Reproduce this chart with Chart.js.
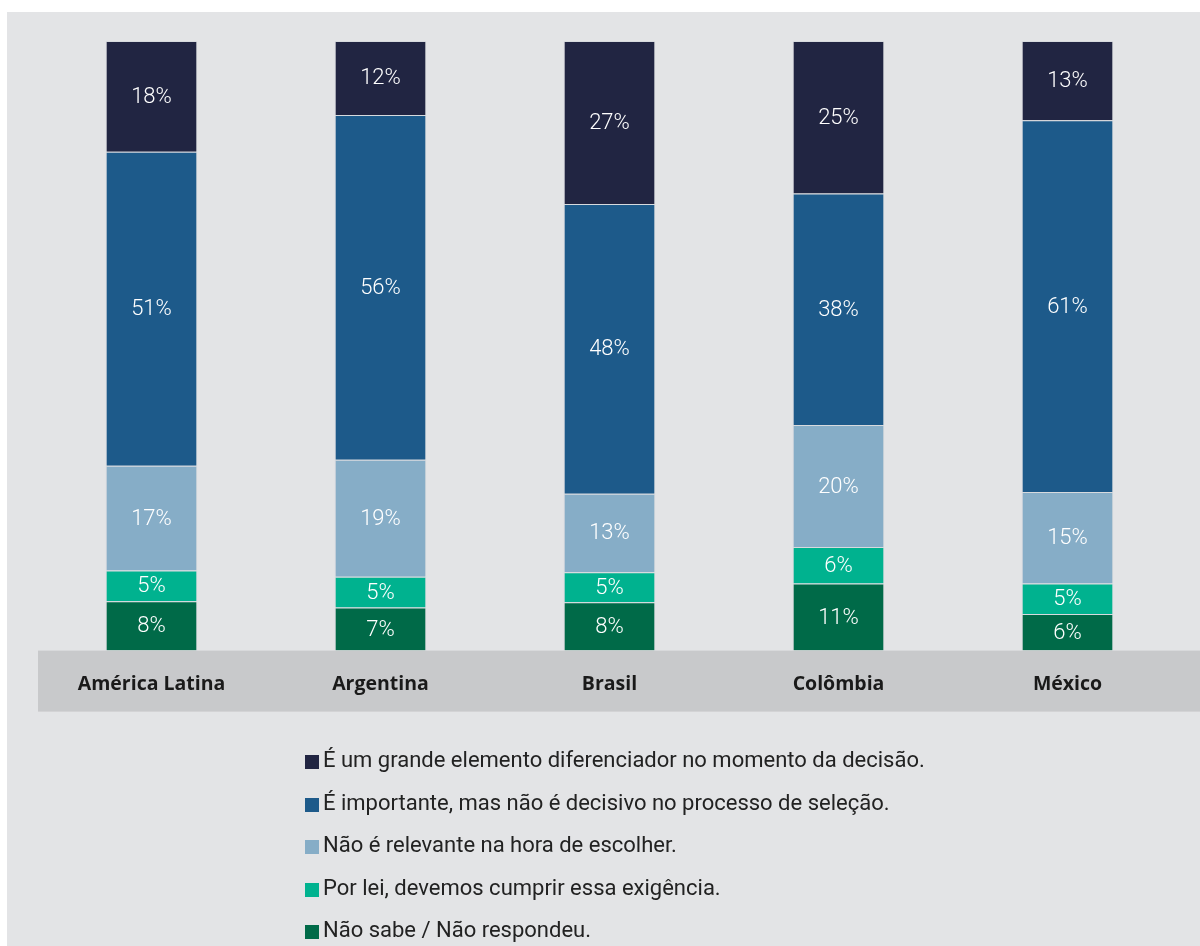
<!DOCTYPE html>
<html lang="pt">
<head>
  <meta charset="UTF-8" />
  <title>Importância - América Latina</title>
  <script src="https://cdn.jsdelivr.net/npm/chart.js"></script>
  <style>
    html, body { margin: 0; padding: 0; background: #fff; }
    #panel { position: absolute; left: 7px; top: 12px; width: 1193px; height: 934px; background: #e3e4e6; }
    #wrap { position: absolute; left: 0; top: 0; width: 1200px; height: 946px; }
    #legend { position: absolute; left: 305px; top: 747px; font-family: Roboto, sans-serif; font-size: 22px; color: #222; }
    #legend div { height: 42.5px; display: flex; align-items: flex-start; white-space: nowrap; }
    #legend span.box { display: inline-block; width: 14px; height: 14px; margin: 8px 4px 0 0; }
  </style>
</head>
<body>
  <div id="panel"></div>
  <div id="wrap"><canvas id="chart" width="1200" height="946"></canvas></div>
  <div id="legend"></div>

  <script>
    // categorias e valores (% exibidos no gráfico)
    const paises = ['América Latina', 'Argentina', 'Brasil', 'Colômbia', 'México'];
    const naoSabe = [8, 7, 8, 11, 6];
    const porLei = [5, 5, 5, 6, 5];
    const naoRelevante = [17, 19, 13, 20, 15];
    const importante = [51, 56, 48, 38, 61];
    const grandeElemento = [18, 12, 27, 25, 13];

    const series = [
      { label: 'Não sabe / Não respondeu.', values: naoSabe, color: '#006a48' },
      { label: 'Por lei, devemos cumprir essa exigência.', values: porLei, color: '#00b28f' },
      { label: 'Não é relevante na hora de escolher.', values: naoRelevante, color: '#86adc7' },
      { label: 'É importante, mas não é decisivo no processo de seleção.', values: importante, color: '#1d5a8a' },
      { label: 'É um grande elemento diferenciador no momento da decisão.', values: grandeElemento, color: '#212542' }
    ];

    // barras 100% empilhadas: cada segmento como parte do total do país
    const totais = paises.map((p, i) => series.reduce((s, d) => s + d.values[i], 0));

    const datasets = series.map(s => ({
      label: s.label,
      data: s.values.map((v, i) => v / totais[i] * 100),
      raw: s.values,
      backgroundColor: s.color,
      borderColor: 'rgba(205,210,215,0.55)',
      borderWidth: 1,
      barPercentage: 0.8,
      categoryPercentage: 0.5
    }));

    const faixaEixo = {
      id: 'faixaEixo',
      beforeDraw(chart) {
        const ctx = chart.ctx;
        const area = chart.chartArea;
        ctx.save();
        ctx.fillStyle = '#c8c9cb';
        ctx.fillRect(38, area.bottom, chart.width - 38, 61);
        ctx.restore();
      }
    };

    const rotulos = {
      id: 'rotulos',
      afterDatasetsDraw(chart) {
        const ctx = chart.ctx;
        ctx.save();
        ctx.fillStyle = '#ffffff';
        ctx.font = '300 22px Roboto, sans-serif';
        ctx.textAlign = 'center';
        ctx.textBaseline = 'middle';
        chart.data.datasets.forEach((ds, di) => {
          chart.getDatasetMeta(di).data.forEach((bar, i) => {
            const y = (bar.y + bar.base) / 2;
            ctx.fillText(ds.raw[i] + '%', bar.x, y + 1);
          });
        });
        ctx.restore();
      }
    };

    const chart = new Chart(document.getElementById('chart'), {
      type: 'bar',
      data: { labels: paises, datasets: datasets },
      options: {
        responsive: false,
        animation: false,
        layout: { padding: { left: 37, right: 18, top: 41, bottom: 228 } },
        scales: {
          x: {
            stacked: true,
            grid: { display: false, drawTicks: false },
            border: { display: false },
            ticks: { padding: 22, color: '#1a1a1a', font: { family: 'Open Sans', size: 19.5, weight: 'bold' } }
          },
          y: { stacked: true, display: false, min: 0, max: 100 }
        },
        plugins: { legend: { display: false }, tooltip: { enabled: false } }
      },
      plugins: [faixaEixo, rotulos]
    });

    // legenda em HTML, de cima para baixo como na pilha
    const legenda = document.getElementById('legend');
    chart.data.datasets.slice().reverse().forEach(ds => {
      const row = document.createElement('div');
      row.innerHTML = '<span class="box" style="background:' + ds.backgroundColor + '"></span>' + ds.label;
      legenda.appendChild(row);
    });
  </script>
</body>
</html>
